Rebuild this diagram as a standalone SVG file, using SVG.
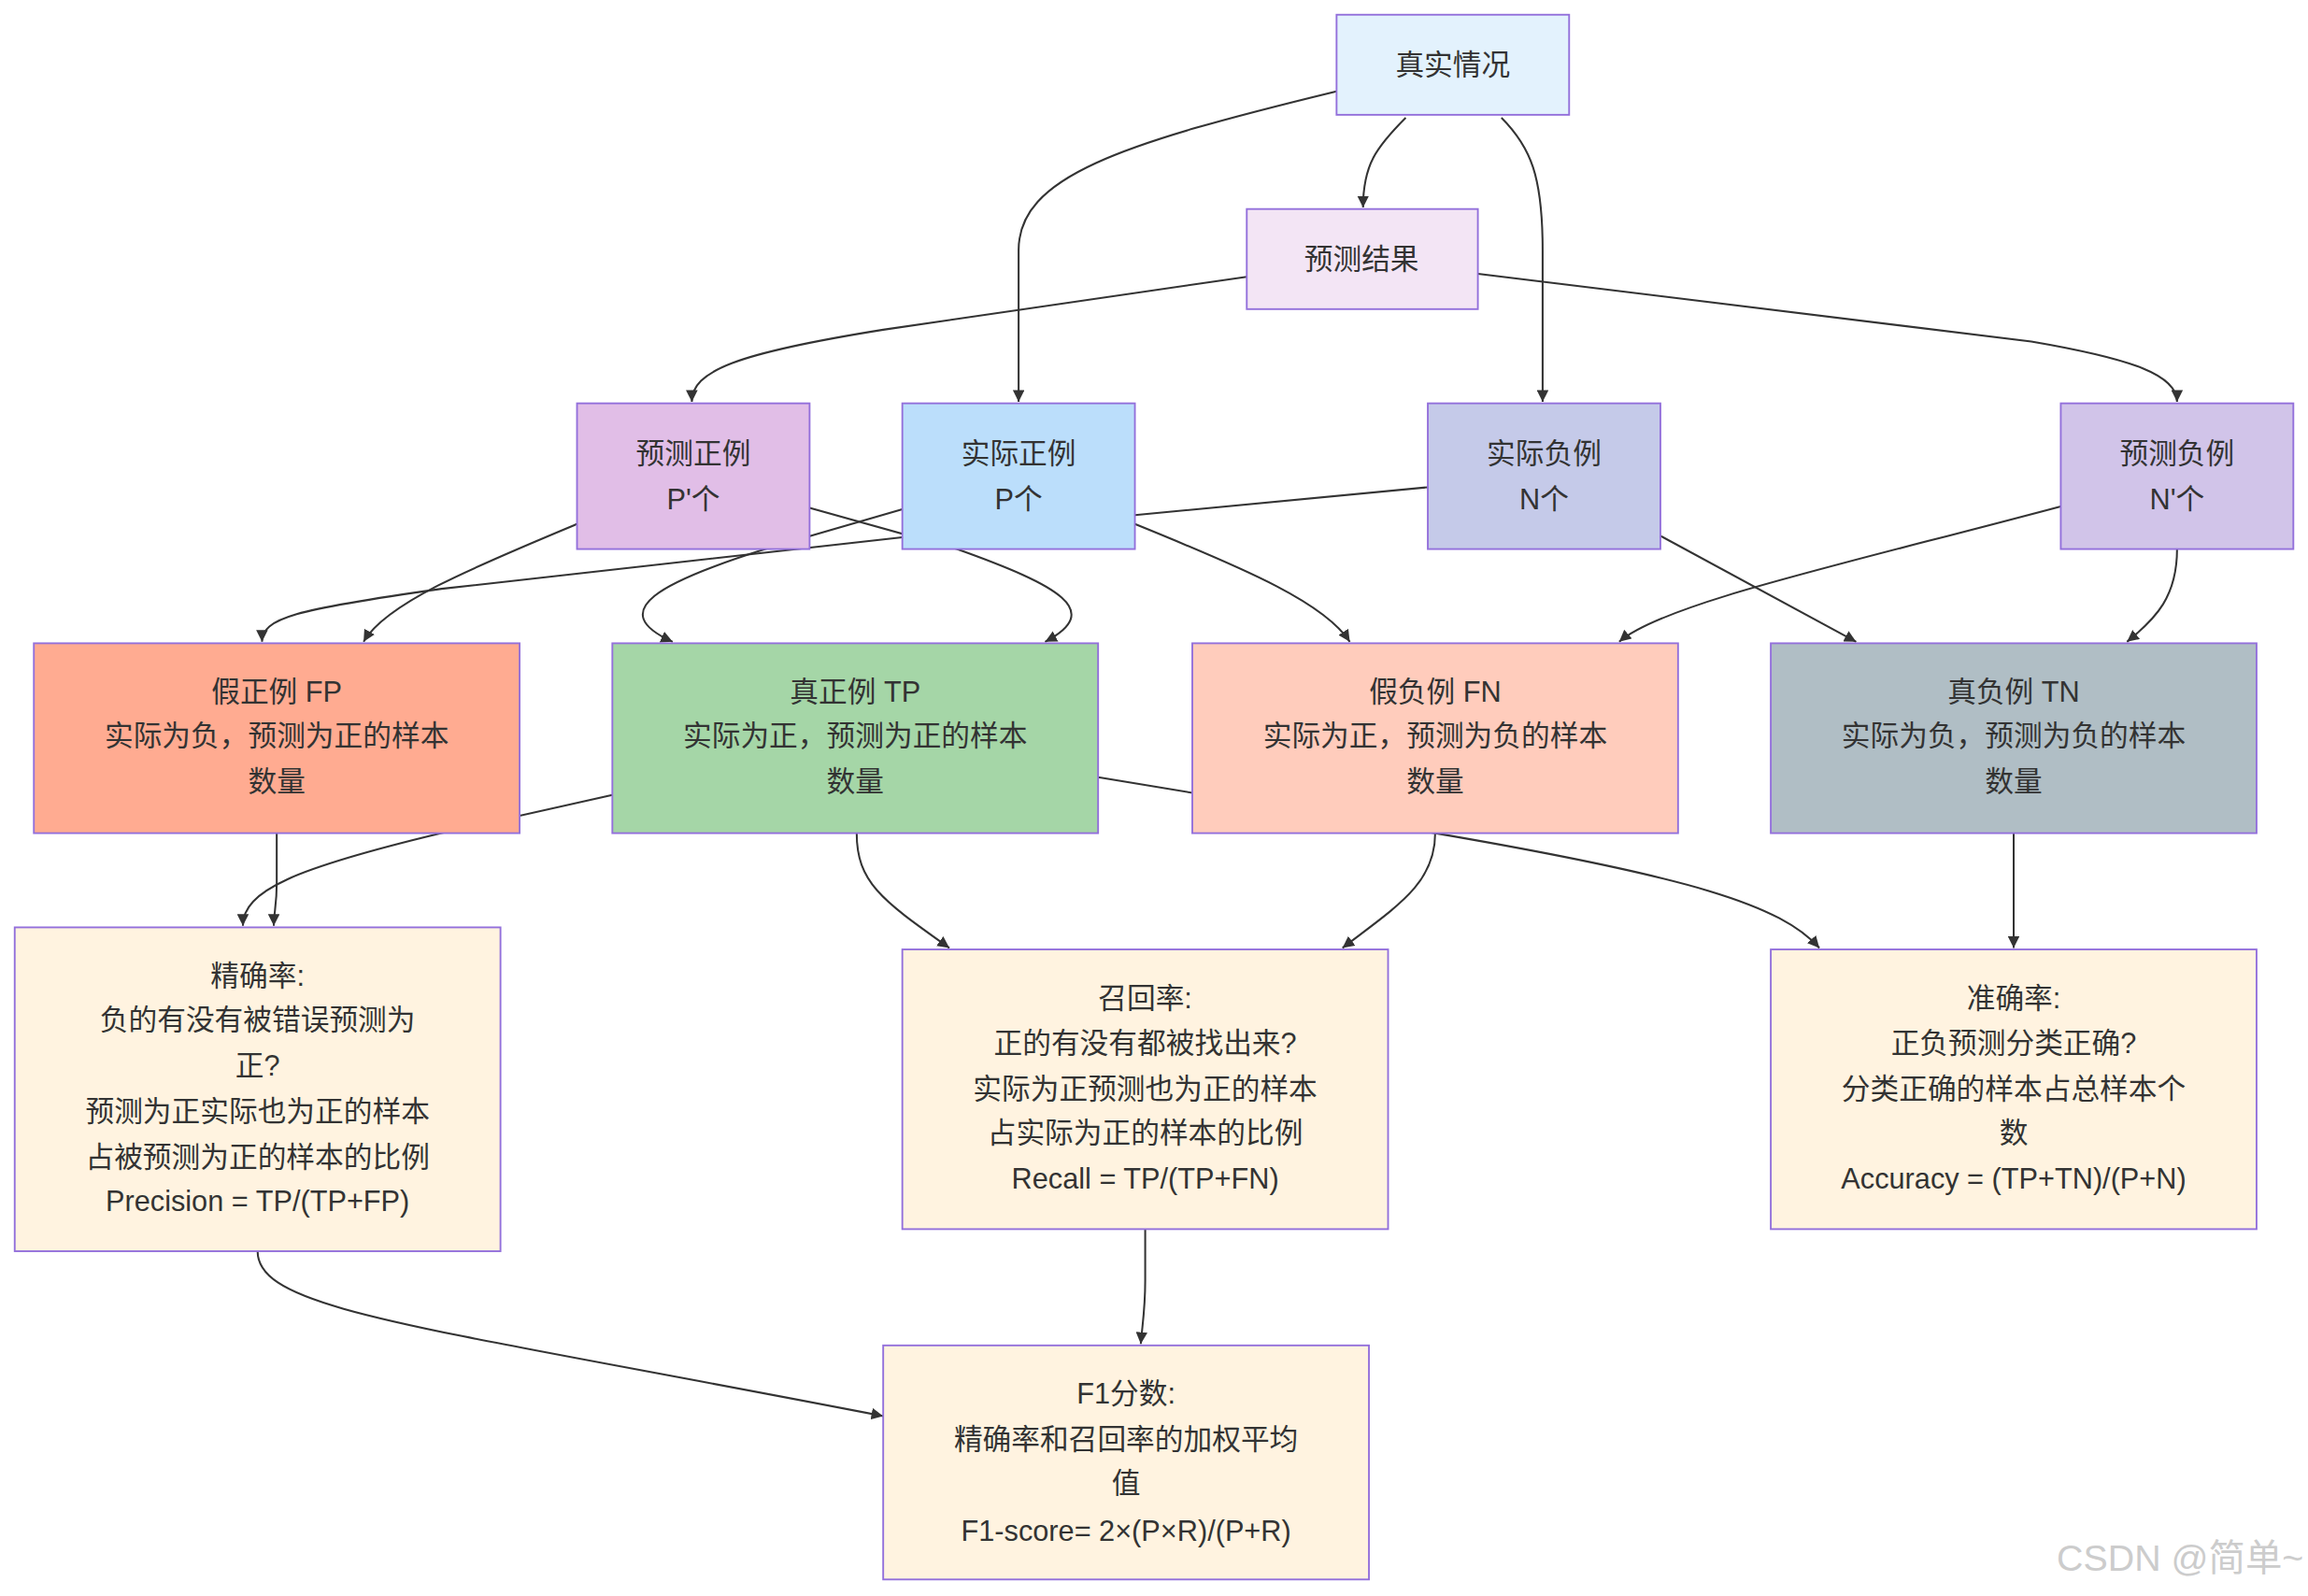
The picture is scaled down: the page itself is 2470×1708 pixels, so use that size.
<svg xmlns="http://www.w3.org/2000/svg" width="2470" height="1708" viewBox="0 0 2470 1708">
<style>
.n rect{stroke:#9370db;stroke-width:1.2}
.n text{font-family:"Liberation Sans","Noto Sans CJK SC",sans-serif;font-size:19.5px;fill:#333;text-anchor:middle;dominant-baseline:central}
.e path{fill:none;stroke:#333;stroke-width:1.3}
</style>
<defs>
<marker id="a" viewBox="0 0 10 10" refX="10" refY="5" markerWidth="8" markerHeight="8" markerUnits="userSpaceOnUse" orient="auto"><path d="M0,0L10,5L0,10z" fill="#333"/></marker>
</defs>
<rect width="2470" height="1708" fill="#fff"/>
<g transform="scale(1.5753)">
<g class="e" marker-end="url(#a)">
<path marker-end="url(#a)" d="M908,62 C760,98 692,120 692,170 L692,273"/>
<path marker-end="url(#a)" d="M955,80 C935,100 926,112 926,141"/>
<path marker-end="url(#a)" d="M1020,80 C1040,100 1048,120 1048,170 L1048,273"/>
<path marker-end="url(#a)" d="M847,188 L600,224 C500,240 470,252 470,273"/>
<path marker-end="url(#a)" d="M1004,186 L1380,232 C1450,244 1479,255 1479,273"/>
<path marker-end="url(#a)" d="M392,356 C320,386 262,410 247,436"/>
<path marker-end="url(#a)" d="M550,345 L650,373 C720,398 750,415 710,436"/>
<path marker-end="url(#a)" d="M613,346 L520,373 C450,395 410,415 457,436"/>
<path marker-end="url(#a)" d="M970,331 L613,365 L300,400 C200,414 178,420 178,436"/>
<path marker-end="url(#a)" d="M771,356 C850,388 900,410 917,436"/>
<path marker-end="url(#a)" d="M1128,364 L1261,436"/>
<path marker-end="url(#a)" d="M1400,344 C1250,384 1130,410 1100,436"/>
<path marker-end="url(#a)" d="M1479,373 C1479,405 1465,420 1445,436"/>
<path marker-end="url(#a)" d="M188,566 L188,600 C188,615 186,620 186,629"/>
<path marker-end="url(#a)" d="M416,540 L300,566 C200,590 165,605 165,629"/>
<path marker-end="url(#a)" d="M582,566 C582,600 600,612 645,644"/>
<path marker-end="url(#a)" d="M975,566 C975,600 950,615 912,644"/>
<path marker-end="url(#a)" d="M746,528 L975,566 C1150,596 1210,615 1236,644"/>
<path marker-end="url(#a)" d="M1368,566 L1368,644"/>
<path marker-end="url(#a)" d="M175,850 C175,890 280,900 600,962"/>
<path marker-end="url(#a)" d="M778,835 L778,870 C778,890 776,900 775,913"/>
</g>
<g id="real" class="n"><rect x="908" y="10" width="158" height="68" fill="#e3f2fd"/><text x="987" y="44">真实情况</text></g>
<g id="pred" class="n"><rect x="847" y="142" width="157" height="68" fill="#f3e5f5"/><text x="925" y="176">预测结果</text></g>
<g id="pp" class="n"><rect x="392" y="274" width="158" height="99" fill="#e1bee7"/><text x="471" y="308">预测正例</text><text x="471" y="339">P'个</text></g>
<g id="ap" class="n"><rect x="613" y="274" width="158" height="99" fill="#bbdefb"/><text x="692" y="308">实际正例</text><text x="692" y="339">P个</text></g>
<g id="an" class="n"><rect x="970" y="274" width="158" height="99" fill="#c5cae9"/><text x="1049" y="308">实际负例</text><text x="1049" y="339">N个</text></g>
<g id="pn" class="n"><rect x="1400" y="274" width="158" height="99" fill="#d1c4e9"/><text x="1479" y="308">预测负例</text><text x="1479" y="339">N'个</text></g>
<g id="fp" class="n"><rect x="23" y="437" width="330" height="129" fill="#ffab91"/><text x="188" y="470">假正例 FP</text><text x="188" y="500">实际为负，预测为正的样本</text><text x="188" y="531">数量</text></g>
<g id="tp" class="n"><rect x="416" y="437" width="330" height="129" fill="#a5d6a7"/><text x="581" y="470">真正例 TP</text><text x="581" y="500">实际为正，预测为正的样本</text><text x="581" y="531">数量</text></g>
<g id="fn" class="n"><rect x="810" y="437" width="330" height="129" fill="#ffccbc"/><text x="975" y="470">假负例 FN</text><text x="975" y="500">实际为正，预测为负的样本</text><text x="975" y="531">数量</text></g>
<g id="tn" class="n"><rect x="1203" y="437" width="330" height="129" fill="#b0bec5"/><text x="1368" y="470">真负例 TN</text><text x="1368" y="500">实际为负，预测为负的样本</text><text x="1368" y="531">数量</text></g>
<g id="prec" class="n"><rect x="10" y="630" width="330" height="220" fill="#fff3e0"/><text x="175" y="663">精确率:</text><text x="175" y="693">负的有没有被错误预测为</text><text x="175" y="724">正?</text><text x="175" y="755">预测为正实际也为正的样本</text><text x="175" y="786">占被预测为正的样本的比例</text><text x="175" y="816">Precision = TP/(TP+FP)</text></g>
<g id="rec" class="n"><rect x="613" y="645" width="330" height="190" fill="#fff3e0"/><text x="778" y="678">召回率:</text><text x="778" y="709">正的有没有都被找出来?</text><text x="778" y="740">实际为正预测也为正的样本</text><text x="778" y="770">占实际为正的样本的比例</text><text x="778" y="801">Recall = TP/(TP+FN)</text></g>
<g id="acc" class="n"><rect x="1203" y="645" width="330" height="190" fill="#fff3e0"/><text x="1368" y="678">准确率:</text><text x="1368" y="709">正负预测分类正确?</text><text x="1368" y="740">分类正确的样本占总样本个</text><text x="1368" y="770">数</text><text x="1368" y="801">Accuracy = (TP+TN)/(P+N)</text></g>
<g id="f1" class="n"><rect x="600" y="914" width="330" height="159" fill="#fff3e0"/><text x="765" y="947">F1分数:</text><text x="765" y="978">精确率和召回率的加权平均</text><text x="765" y="1008">值</text><text x="765" y="1040">F1-score= 2×(P×R)/(P+R)</text></g>
<text x="1565" y="1058" text-anchor="end" dominant-baseline="central" font-family="Liberation Sans,Noto Sans CJK SC,sans-serif" font-size="25" fill="#ccc">CSDN @简单~</text>
</g>
</svg>
